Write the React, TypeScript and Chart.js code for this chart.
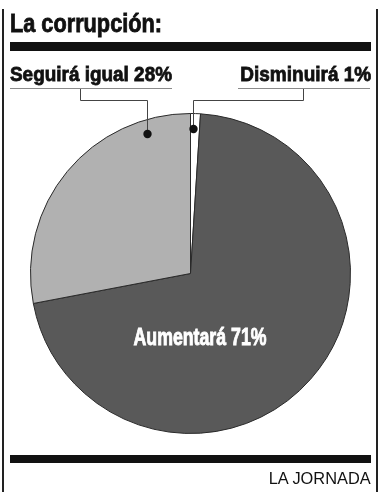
import React, { useEffect, useLayoutEffect, useRef } from "react";
import { Chart, registerables } from "chart.js";

Chart.register(...registerables);

const categories = ["Disminuirá", "Aumentará", "Seguirá igual"];
const values = [1, 71, 28];
const sliceColors = ["#ffffff", "#595959", "#b1b1b1"];
const titleText = "La corrupción:";
const sourceText = "LA JORNADA";

const SANS = "'Liberation Sans', Arial, Helvetica, sans-serif";

const leaderPlugin = {
  id: "leaders",
  afterDraw(chart: any) {
    const ctx = chart.ctx;
    const arc = chart.getDatasetMeta(0).data[0];
    const cx = arc.x;
    const cy = arc.y;
    ctx.save();
    ctx.strokeStyle = "#8a8a8a";
    ctx.lineWidth = 1;
    ctx.beginPath();
    ctx.moveTo(10, 88.5);
    ctx.lineTo(172, 88.5);
    ctx.moveTo(238, 88.5);
    ctx.lineTo(370, 88.5);
    ctx.stroke();
    const d1 = { x: cx - 43.5, y: cy - 139.5 };
    const d2 = { x: cx + 2.5, y: cy - 144.5 };
    ctx.strokeStyle = "#444";
    ctx.beginPath();
    ctx.moveTo(80.5, 89);
    ctx.lineTo(80.5, 100.5);
    ctx.lineTo(Math.round(d1.x) + 0.5, 100.5);
    ctx.lineTo(Math.round(d1.x) + 0.5, d1.y);
    ctx.moveTo(303.5, 89);
    ctx.lineTo(303.5, 100.5);
    ctx.lineTo(Math.round(d2.x) + 0.5, 100.5);
    ctx.lineTo(Math.round(d2.x) + 0.5, d2.y);
    ctx.stroke();
    ctx.fillStyle = "#111";
    for (const d of [d1, d2]) {
      ctx.beginPath();
      ctx.arc(Math.round(d.x) + 0.5, d.y, 4.2, 0, Math.PI * 2);
      ctx.fill();
    }
    // inner label of the largest slice, condensed to the reference width
    const txt = `${categories[1]} ${values[1]}%`;
    ctx.fillStyle = "#ffffff";
    ctx.strokeStyle = "#ffffff";
    ctx.lineWidth = 0.9;
    ctx.font = `bold 23.5px ${SANS}`;
    ctx.textAlign = "center";
    ctx.textBaseline = "alphabetic";
    const w = ctx.measureText(txt).width;
    const sx = 133 / w;
    ctx.translate(cx + 9.5, cy + 71.5);
    ctx.scale(sx, 1);
    ctx.fillText(txt, 0, 0);
    ctx.strokeText(txt, 0, 0);
    ctx.restore();
  },
};

function FitText(props: {
  text: string;
  left?: number;
  right?: number;
  top: number;
  width: number;
  size: number;
  lh: number;
  bold?: boolean;
}) {
  const ref = useRef<HTMLSpanElement | null>(null);
  useLayoutEffect(() => {
    const el = ref.current;
    if (!el) return;
    el.style.transform = "none";
    const natural = el.getBoundingClientRect().width;
    if (natural > 0) el.style.transform = `scaleX(${props.width / natural})`;
  }, [props.text, props.width]);
  const style: any = {
    position: "absolute",
    top: props.top,
    fontFamily: SANS,
    fontWeight: props.bold ? "bold" : "normal",
    fontSize: props.size,
    lineHeight: `${props.lh}px`,
    color: "#111",
    whiteSpace: "nowrap",
    display: "inline-block",
    transformOrigin: props.right !== undefined ? "right top" : "left top",
  };
  if (props.bold) style.WebkitTextStroke = "0.8px #111";
  if (props.left !== undefined) style.left = props.left;
  if (props.right !== undefined) style.right = props.right;
  return (
    <span ref={ref} style={style}>
      {props.text}
    </span>
  );
}

export default function App() {
  const ref = useRef<HTMLCanvasElement | null>(null);

  useEffect(() => {
    if (!ref.current) return;
    const chart = new Chart(ref.current, {
      type: "pie",
      data: {
        labels: categories,
        datasets: [
          {
            data: values,
            backgroundColor: sliceColors,
            borderColor: "#2a2a2a",
            borderWidth: 1,
          },
        ],
      },
      options: {
        responsive: false,
        animation: false,
        layout: { padding: { left: 30, right: 27, top: 113, bottom: 66 } },
        plugins: {
          legend: { display: false },
          tooltip: { enabled: false },
        },
      },
      plugins: [leaderPlugin],
    });
    return () => chart.destroy();
  }, []);

  return (
    <div
      style={{
        position: "absolute",
        left: 0,
        top: 0,
        width: 378,
        height: 500,
        background: "#fff",
        overflow: "hidden",
      }}
    >
      <canvas ref={ref} width={378} height={500} style={{ position: "absolute", left: 0, top: 0 }} />
      <div style={{ position: "absolute", left: 2, top: 9, width: 2, height: 483, background: "#222" }} />
      <div style={{ position: "absolute", left: 376, top: 9, width: 2, height: 483, background: "#222" }} />
      <div style={{ position: "absolute", left: 10, top: 42, width: 361, height: 9, background: "#111" }} />
      <div style={{ position: "absolute", left: 10, top: 455, width: 361, height: 8, background: "#111" }} />
      <FitText text={titleText} left={10} top={8} width={152} size={25} lh={30} bold />
      <FitText text={`${categories[2]} ${values[2]}%`} left={10} top={61} width={162} size={20.5} lh={25} bold />
      <FitText text={`${categories[0]} ${values[0]}%`} right={7} top={61} width={131} size={20.5} lh={25} bold />
      <FitText text={sourceText} right={7} top={468} width={102} size={16.5} lh={20} />
    </div>
  );
}
